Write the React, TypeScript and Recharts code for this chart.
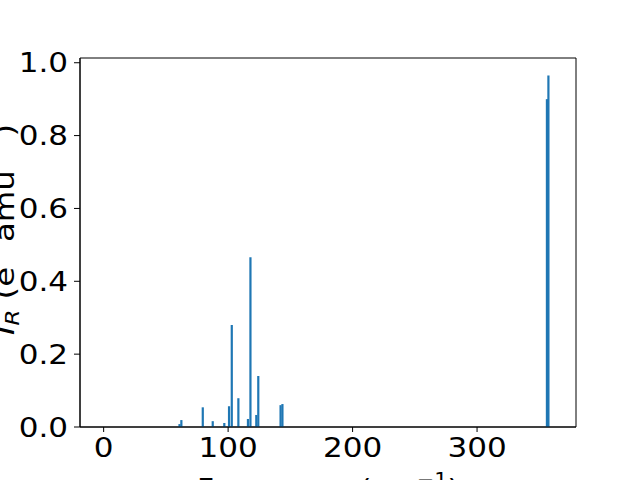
import { BarChart, Bar, XAxis, YAxis, ReferenceArea } from "recharts";

// Raman spectrum: frequencies (cm^-1) and intensities
const frequencies = [
  61.0, 62.5, 79.7, 87.7, 97.0, 100.8, 103.0, 108.3, 116.0, 118.0, 122.7,
  124.3, 142.2, 143.7, 356.2, 357.4,
];
const intensities = [
  0.008, 0.019, 0.054, 0.016, 0.011, 0.057, 0.28, 0.079, 0.022, 0.466, 0.033,
  0.14, 0.06, 0.063, 0.9, 0.965,
];
const xTicks = [0, 100, 200, 300];
const yTicks = [0, 0.2, 0.4, 0.6, 0.8, 1.0];

const data = frequencies.map((f, i) => ({ freq: f, intensity: intensities[i] }));

const FONT = "DejaVu Sans";
const FS = 27;
const SUB = 19;
const STRETCH = 1.15; // reference glyphs are a bit wider than plain DejaVu

// thin bars, centred on the frequency
const ThinBar = (props: any) => {
  const { x, y, width, height, fill } = props;
  const w = 2.2;
  return <rect x={x + width / 2 - w / 2} y={y} width={w} height={height} fill={fill} />;
};

const XTick = (props: any) => {
  const { x, y, payload } = props;
  return (
    <text
      transform={`translate(${x}, ${y}) scale(${STRETCH}, 1)`}
      textAnchor="middle"
      dy="0.71em"
      fontFamily={FONT}
      fontSize={FS}
      fill="#000"
    >
      {payload.value}
    </text>
  );
};

const YTick = (props: any) => {
  const { x, y, payload } = props;
  return (
    <text
      transform={`translate(${x}, ${y}) scale(${STRETCH}, 1)`}
      textAnchor="end"
      dy="0.355em"
      fontFamily={FONT}
      fontSize={FS}
      fill="#000"
    >
      {Number(payload.value).toFixed(1)}
    </text>
  );
};

const XLabel = (props: any) => {
  const vb = props.viewBox;
  const cx = vb.x + vb.width / 2;
  const y = vb.y + 71;
  return (
    <text
      transform={`translate(${cx}, ${y}) scale(1.1, 1)`}
      textAnchor="middle"
      fontFamily={FONT}
      fontSize={FS}
      fill="#000"
      style={{ whiteSpace: "pre" }}
    >
      <tspan>{"Frequency (cm"}</tspan>
      <tspan fontSize={SUB} dy={-12}>{"\u22121"}</tspan>
      <tspan dy={12}>{")"}</tspan>
    </text>
  );
};

const YLabel = (props: any) => {
  const vb = props.viewBox;
  const x = 14;
  const y = vb.y + vb.height / 2 - 13;
  return (
    <text
      transform={`translate(${x}, ${y}) rotate(-90) scale(1.2, 1)`}
      textAnchor="middle"
      fontFamily={FONT}
      fontSize={FS}
      fill="#000"
      style={{ whiteSpace: "pre" }}
    >
      <tspan fontStyle="italic">I</tspan>
      <tspan fontStyle="italic" fontSize={SUB} dy={5}>R</tspan>
      <tspan dy={-5}>{" (e"}</tspan>
      <tspan fontSize={SUB} dy={-15}>2</tspan>
      <tspan dy={15}>{" amu"}</tspan>
      <tspan fontSize={SUB} dy={-15}>{"\u22121"}</tspan>
      <tspan dy={15}>{")"}</tspan>
    </text>
  );
};

export default function App() {
  const xDomain: [number, number] = [-19, 379.5];
  const yDomain: [number, number] = [0, 1.013];

  return (
    <div style={{ position: "absolute", left: 0, top: 0, background: "#fff" }}>
      <BarChart
        width={640}
        height={480}
        data={data}
        margin={{ top: 58, right: 64, bottom: 0, left: 0 }}
        barSize={2}
      >
        <XAxis
          dataKey="freq"
          type="number"
          domain={xDomain}
          ticks={xTicks}
          allowDataOverflow
          height={53}
          tick={<XTick />}
          tickSize={5}
          tickMargin={6}
          tickLine={{ stroke: "#000" }}
          axisLine={{ stroke: "#000" }}
          label={<XLabel />}
        />
        <YAxis
          type="number"
          domain={yDomain}
          ticks={yTicks}
          allowDataOverflow
          width={80}
          tick={<YTick />}
          tickSize={6}
          tickMargin={6}
          tickLine={{ stroke: "#000" }}
          axisLine={{ stroke: "#000" }}
          label={<YLabel />}
        />
        <ReferenceArea
          x1={xDomain[0]}
          x2={xDomain[1]}
          y1={yDomain[0]}
          y2={yDomain[1]}
          fill="none"
          fillOpacity={0}
          stroke="#000"
          strokeWidth={1}
          strokeOpacity={1}
        />
        <Bar dataKey="intensity" fill="#1f77b4" shape={<ThinBar />} isAnimationActive={false} />
      </BarChart>
    </div>
  );
}
